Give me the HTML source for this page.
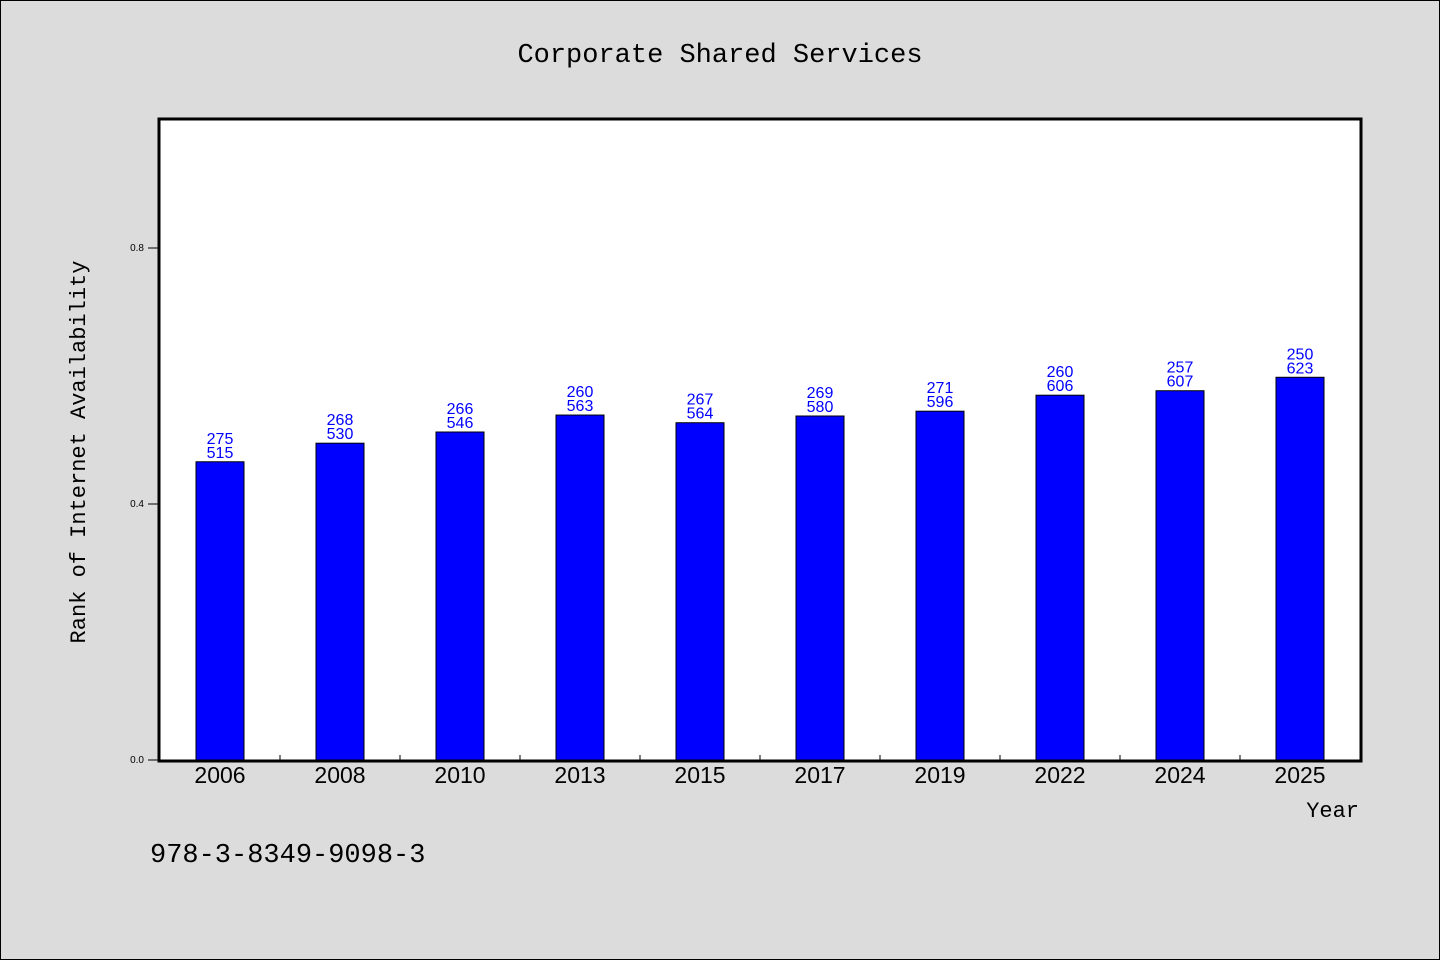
<!DOCTYPE html>
<html><head><meta charset="utf-8"><style>
body{margin:0;background:#dcdcdc;}
svg{display:block;font-family:"Liberation Sans","WenQuanYi Zen Hei",sans-serif;}
.mono{font-family:"Liberation Mono","WenQuanYi Zen Hei",monospace;}
</style></head><body>
<svg id="chart" width="1440" height="960" xmlns="http://www.w3.org/2000/svg">
<rect x="0.5" y="0.5" width="1439" height="959" fill="#dcdcdc" stroke="#000"/>
<text class="mono" x="720" y="62" text-anchor="middle" font-size="27">Corporate Shared Services</text>
<rect x="159" y="119" width="1202" height="642" fill="#fff"/>
<g id="bars"></g>
<rect x="159" y="119" width="1202" height="642" fill="none" stroke="#000" stroke-width="3"/>
<g id="axes"></g>
<text class="mono" transform="translate(85,452) rotate(-90)" text-anchor="middle" font-size="22">Rank of Internet Availability</text>
<text class="mono" x="1359" y="817" text-anchor="end" font-size="22">Year</text>
<text class="mono" x="150" y="862" font-size="27">978-3-8349-9098-3</text>
</svg>
<script>
const categories=["2006","2008","2010","2013","2015","2017","2019","2022","2024","2025"];
const values=[0.466,0.495,0.5125,0.539,0.527,0.5375,0.545,0.570,0.577,0.598];
const labelTop=["275","268","266","260","267","269","271","260","257","250"];
const labelBottom=["515","530","546","563","564","580","596","606","607","623"];
const yTicks=[0.0,0.4,0.8];
const NS="http://www.w3.org/2000/svg";
const x0=160,band=120,yBase=760,yTop=120,yMax=1.0;
const yScale=v=>yBase-(v/yMax)*(yBase-yTop);
const xCenter=i=>x0+band*i+band/2;
function mk(tag,attrs,parent,text){const e=document.createElementNS(NS,tag);for(const k in attrs)e.setAttribute(k,attrs[k]);if(text!==undefined)e.textContent=text;parent.appendChild(e);return e;}
const bars=document.getElementById('bars'),axes=document.getElementById('axes');
categories.forEach((c,i)=>{
  const y=yScale(values[i]);
  const r=mk('rect',{x:xCenter(i)-24,y:y,width:48,height:yBase-y,fill:'#0000ff',stroke:'#000','stroke-width':1},bars);
  
  
  const t1=mk('text',{x:xCenter(i),y:y-18,'text-anchor':'middle','font-size':16,fill:'#0000ff'},bars,labelTop[i]);
  
  
  const t2=mk('text',{x:xCenter(i),y:y-4,'text-anchor':'middle','font-size':16,fill:'#0000ff'},bars,labelBottom[i]);
  
  
  const xl=mk('text',{x:xCenter(i),y:783,'text-anchor':'middle','font-size':23},axes,c);
  
  
  if(i>0){const tk=mk('line',{x1:x0+band*i,x2:x0+band*i,y1:755,y2:760,stroke:'#000'},axes);
  
  }
});
yTicks.forEach(v=>{
  const y=yScale(v);
  const tk=mk('line',{x1:148,x2:159,y1:y,y2:y,stroke:'#000'},axes);
  
  
  const tl=mk('text',{x:144,y:y+3,'text-anchor':'end','font-size':10},axes,v.toFixed(1));
  
  
});
</script>
</body></html>
